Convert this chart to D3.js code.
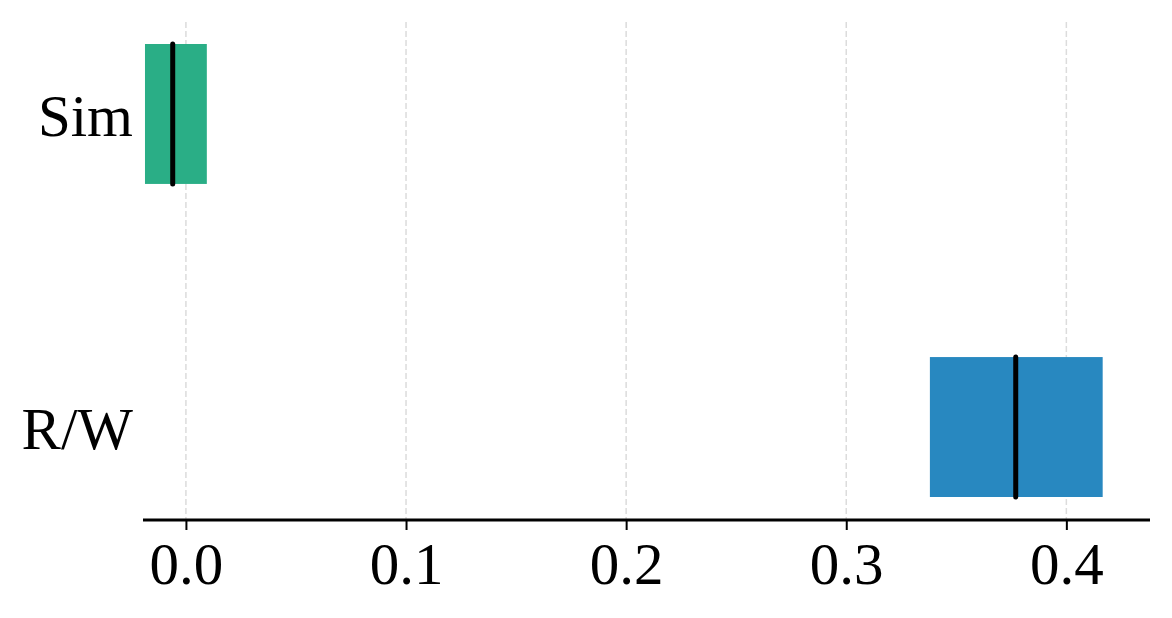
<!DOCTYPE html>
<html>
<head>
<meta charset="utf-8">
<script src="https://cdn.jsdelivr.net/npm/d3@7"></script>
<style>
  html, body { margin: 0; padding: 0; background: #fff; }
  svg text { font-family: "Liberation Serif", "Times New Roman", serif; fill: #000; }
</style>
</head>
<body>
<div id="chart"></div>
<script>
// categories and box values (lower quartile, median, upper quartile)
const categories = ["Sim", "R/W"];
const lower = [-0.0186, 0.338];
const median = [-0.006, 0.377];
const upper = [0.0095, 0.4165];
const colors = ["#2aae86", "#2888c0"];
const tickValues = [0.0, 0.1, 0.2, 0.3, 0.4];

const width = 1172, height = 618;

const svg = d3.select("#chart").append("svg")
    .attr("width", width)
    .attr("height", height);

const x = d3.scaleLinear()
    .domain([-0.0195, 0.438])
    .range([143, 1150]);

const y = d3.scaleBand()
    .domain(categories)
    .range([44, 497])
    .paddingInner(0.553)
    .paddingOuter(0);

const axisY = 520;

// dashed vertical gridlines
svg.append("g")
    .selectAll("line")
    .data(tickValues)
    .enter()
    .append("line")
    .attr("x1", d => x(d))
    .attr("x2", d => x(d))
    .attr("y1", 22)
    .attr("y2", axisY)
    .attr("stroke", "#dcdcdc")
    .attr("stroke-width", 1.5)
    .attr("stroke-dasharray", "6,3");

// boxes
const data = categories.map((c, i) => ({name: c, lo: lower[i], med: median[i], hi: upper[i], color: colors[i]}));

const boxes = svg.selectAll(".box")
    .data(data)
    .enter()
    .append("g");

boxes.append("rect")
    .attr("x", d => x(d.lo))
    .attr("y", d => y(d.name))
    .attr("width", d => x(d.hi) - x(d.lo))
    .attr("height", y.bandwidth())
    .attr("fill", d => d.color);

boxes.append("line")
    .attr("x1", d => x(d.med))
    .attr("x2", d => x(d.med))
    .attr("y1", d => y(d.name))
    .attr("y2", d => y(d.name) + y.bandwidth())
    .attr("stroke", "#000")
    .attr("stroke-width", 5)
    .attr("stroke-linecap", "round");

// category labels
svg.append("g")
    .selectAll("text")
    .data(categories)
    .enter()
    .append("text")
    .attr("x", 133)
    .attr("y", d => y(d) + y.bandwidth() / 2 + 22)
    .attr("text-anchor", "end")
    .attr("font-size", 59)
    .text(d => d);

// bottom axis
const xAxis = d3.axisBottom(x)
    .tickValues(tickValues)
    .tickFormat(d3.format(".1f"))
    .tickSize(10)
    .tickPadding(12);

const gx = svg.append("g")
    .attr("transform", "translate(0," + axisY + ")")
    .call(xAxis);

gx.select(".domain")
    .attr("d", "M" + x.range()[0] + ",0H" + x.range()[1])
    .attr("stroke", "#000")
    .attr("stroke-width", 3);

gx.selectAll(".tick line")
    .attr("stroke", "#000")
    .attr("stroke-width", 2);

gx.selectAll(".tick text")
    .attr("font-size", 59)
    .attr("font-family", "Liberation Serif, serif")
    .attr("fill", "#000");
</script>
</body>
</html>
